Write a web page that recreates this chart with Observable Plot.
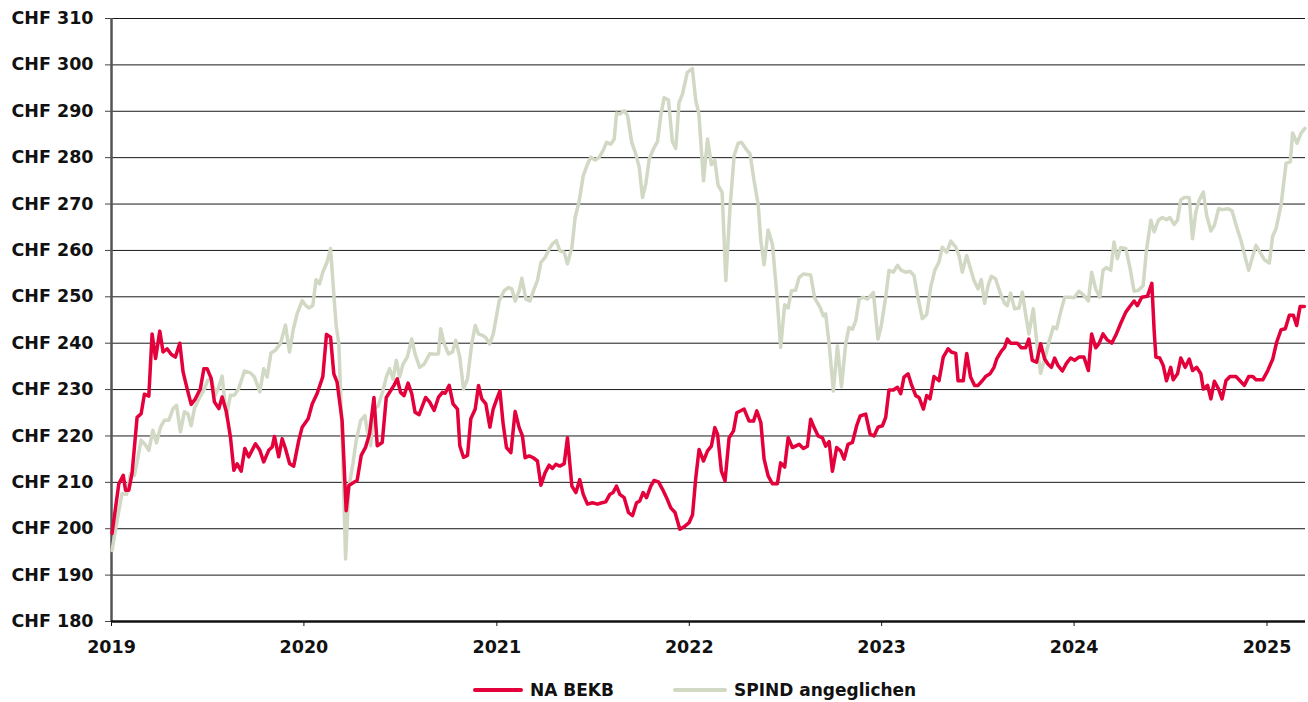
<!DOCTYPE html>
<html>
<head>
<meta charset="utf-8">
<script src="https://cdn.jsdelivr.net/npm/d3@7"></script>
<script src="https://cdn.jsdelivr.net/npm/@observablehq/plot@0.6"></script>
<style>
  html, body { margin: 0; padding: 0; background: #fff; }
  #chart svg { display: block; }
  #legend { position: relative; height: 40px; font: bold 17px "DejaVu Sans", sans-serif; color: #111; }
  .item { position: absolute; top: 0; display: flex; align-items: center; height: 56px; }
  .sw { display: inline-block; height: 4px; border-radius: 2px; margin-right: 7px; }
</style>
</head>
<body>
<div id="chart"></div>
<div id="legend"></div>
<script>
// Series names and colours
const seriesNames = ["NA BEKB", "SPIND angeglichen"];
const seriesColors = ["#e3003b", "#d1d8c4"];

// Y ticks (CHF) and X ticks (years)
const yTicks = [180, 190, 200, 210, 220, 230, 240, 250, 260, 270, 280, 290, 300, 310];
const xTickYears = [2019, 2020, 2021, 2022, 2023, 2024, 2025];

// NA BEKB: decimal-year positions and values
const bekbYears = [2019.003,2019.038,2019.061,2019.073,2019.090,2019.107,2019.133,2019.154,2019.171,2019.194,2019.211,2019.229,2019.251,2019.268,2019.289,2019.310,2019.332,2019.355,2019.372,2019.393,2019.414,2019.436,2019.462,2019.480,2019.497,2019.518,2019.535,2019.558,2019.575,2019.597,2019.618,2019.636,2019.653,2019.674,2019.693,2019.713,2019.748,2019.771,2019.791,2019.817,2019.835,2019.847,2019.869,2019.887,2019.904,2019.926,2019.947,2019.973,2019.991,
2020.022,2020.043,2020.069,2020.098,2020.117,2020.138,2020.155,2020.172,2020.198,2020.219,2020.233,2020.259,2020.276,2020.297,2020.320,2020.340,2020.363,2020.380,2020.406,2020.427,2020.450,2020.467,2020.484,2020.501,2020.519,2020.540,2020.559,2020.576,2020.597,2020.631,2020.652,2020.675,2020.697,2020.718,2020.732,2020.753,2020.773,2020.796,2020.808,2020.827,2020.848,2020.865,2020.888,2020.905,2020.922,2020.943,2020.964,2020.981,
2021.000,2021.016,2021.033,2021.050,2021.073,2021.095,2021.116,2021.133,2021.147,2021.168,2021.189,2021.211,2021.229,2021.251,2021.272,2021.289,2021.307,2021.327,2021.350,2021.367,2021.390,2021.411,2021.431,2021.449,2021.471,2021.497,2021.523,2021.546,2021.566,2021.587,2021.604,2021.622,2021.639,2021.662,2021.684,2021.705,2021.726,2021.743,2021.760,2021.778,2021.800,2021.817,2021.840,2021.861,2021.882,2021.904,2021.926,2021.951,2021.973,2021.999,
2022.017,2022.034,2022.051,2022.074,2022.095,2022.115,2022.133,2022.147,2022.167,2022.186,2022.207,2022.230,2022.247,2022.285,2022.311,2022.334,2022.351,2022.372,2022.389,2022.410,2022.432,2022.458,2022.475,2022.496,2022.514,2022.536,2022.571,2022.593,2022.614,2022.631,2022.649,2022.670,2022.692,2022.709,2022.727,2022.744,2022.766,2022.787,2022.805,2022.825,2022.848,2022.870,2022.888,2022.917,2022.940,2022.960,2022.981,
2023.004,2023.021,2023.038,2023.061,2023.082,2023.099,2023.116,2023.137,2023.154,2023.177,2023.194,2023.217,2023.234,2023.251,2023.272,2023.298,2023.320,2023.345,2023.362,2023.385,2023.397,2023.424,2023.442,2023.462,2023.483,2023.501,2023.523,2023.540,2023.563,2023.584,2023.598,2023.622,2023.639,2023.653,2023.670,2023.705,2023.726,2023.748,2023.765,2023.783,2023.805,2023.826,2023.847,2023.864,2023.882,2023.899,2023.916,2023.939,2023.961,2023.982,
2024.003,2024.025,2024.051,2024.074,2024.091,2024.112,2024.129,2024.150,2024.172,2024.195,2024.216,2024.242,2024.268,2024.289,2024.311,2024.328,2024.351,2024.380,2024.403,2024.415,2024.424,2024.444,2024.462,2024.479,2024.501,2024.514,2024.536,2024.553,2024.576,2024.597,2024.614,2024.635,2024.657,2024.670,2024.692,2024.709,2024.727,2024.749,2024.767,2024.787,2024.808,2024.839,2024.860,2024.882,2024.905,2024.926,2024.943,2024.978,
2025.004,2025.030,2025.050,2025.073,2025.095,2025.116,2025.137,2025.154,2025.172,2025.194];
const bekbValues = [199,209.7,211.5,208.3,208.3,212,224,224.8,229,228.6,242,236.7,242.6,238.1,238.8,237.6,237,240,233.8,230.2,226.8,228,230.2,234.5,234.5,232.4,227.3,225.9,228.4,225.2,219.8,212.6,214,212.4,217.3,215.5,218.3,216.9,214.4,216.9,217.6,219.9,215.5,219.4,217.3,214,213.5,219,221.9,
223.7,226.9,229.2,232.8,241.9,241.3,233.4,231.6,223.3,203.9,209.3,210,210.4,215.8,217.6,220.4,228.3,217.9,218.6,228.3,229.8,230.9,232.3,229.4,228.7,231.4,229.1,225.1,224.6,228.3,227.3,225.5,228.3,229.4,229.2,230.9,226.9,225.8,217.9,215.4,215.8,223.7,225.8,230.9,228,226.9,221.9,225.8,
228,229.7,222.5,217.5,216.4,225.3,221.8,220,215.3,215.7,215.3,214.6,209.4,212.1,213.7,213,213.9,213.5,214,219.6,209.2,207.8,210.6,207.4,205.3,205.6,205.3,205.6,205.8,207.4,207.8,209.2,207.4,206.7,203.5,202.8,205.6,206,207.8,206.7,209.2,210.4,210.1,208.5,206.7,204.5,203.5,199.9,200.4,201.3,
203,211,217.1,214.6,216.8,217.8,221.8,220.4,212.4,210.3,219.6,221.1,225,225.8,223.2,223.2,225.4,222.9,215,211.4,209.7,209.7,214.2,213.3,219.6,217.5,218.2,217.3,217.8,223.6,221.8,220,219.6,217.8,218.8,212.4,217.5,216.8,215,218.2,218.6,222.2,224.3,224.7,220.4,220,221.9,
222.2,224,229.9,229.9,230.5,229.1,232.7,233.4,231.2,228.7,228.3,225.8,228.7,228,232.8,231.9,237,238.8,238.1,237.8,231.9,231.9,237.8,232.7,230.9,230.9,231.9,232.8,233.4,234.8,236.6,238.3,239.1,240.9,240,240,239,239,240.9,236.3,235.9,239.9,236.6,235.5,234.8,236.8,235.2,234,235.7,236.8,
236.3,237,237,234.1,242,239,239.9,242,240.7,240,241.7,244.3,246.7,247.9,249.1,248.1,249.9,250.1,252.9,242.7,237,236.8,235.2,231.9,234.8,232.1,233.4,236.8,234.8,236.6,234.1,234.8,233.4,230.1,230.9,228,231.8,230.1,228,231.9,232.8,232.8,231.9,230.9,232.8,232.8,232.1,232.1,
234.1,236.6,240.2,242.9,243.1,246,246,243.8,247.9,247.9];

// SPIND angeglichen: decimal-year positions and values
const spindYears = [2019.003,2019.029,2019.055,2019.078,2019.099,2019.119,2019.133,2019.154,2019.177,2019.194,2019.215,2019.234,2019.255,2019.275,2019.298,2019.320,2019.338,2019.358,2019.379,2019.397,2019.414,2019.431,2019.459,2019.480,2019.500,2019.518,2019.540,2019.558,2019.575,2019.597,2019.618,2019.639,2019.661,2019.691,2019.722,2019.743,2019.771,2019.791,2019.809,2019.829,2019.852,2019.878,2019.904,2019.925,2019.944,2019.965,2019.991,
2020.008,2020.025,2020.046,2020.063,2020.081,2020.098,2020.120,2020.138,2020.155,2020.167,2020.181,2020.198,2020.216,2020.233,2020.254,2020.271,2020.294,2020.316,2020.328,2020.346,2020.363,2020.385,2020.410,2020.427,2020.444,2020.462,2020.479,2020.496,2020.514,2020.536,2020.559,2020.576,2020.600,2020.623,2020.652,2020.680,2020.697,2020.709,2020.727,2020.749,2020.770,2020.787,2020.808,2020.827,2020.848,2020.870,2020.888,2020.905,2020.926,2020.943,2020.962,2020.981,
2021.012,2021.038,2021.061,2021.078,2021.095,2021.116,2021.130,2021.151,2021.172,2021.194,2021.211,2021.229,2021.251,2021.272,2021.289,2021.310,2021.327,2021.350,2021.367,2021.390,2021.407,2021.428,2021.449,2021.471,2021.488,2021.511,2021.532,2021.552,2021.570,2021.592,2021.610,2021.622,2021.639,2021.662,2021.679,2021.701,2021.722,2021.740,2021.757,2021.774,2021.792,2021.812,2021.835,2021.852,2021.869,2021.892,2021.912,2021.930,2021.947,2021.964,2021.990,
2022.016,2022.034,2022.050,2022.074,2022.095,2022.115,2022.133,2022.150,2022.171,2022.190,2022.212,2022.233,2022.254,2022.271,2022.294,2022.316,2022.337,2022.358,2022.372,2022.389,2022.410,2022.432,2022.455,2022.475,2022.496,2022.514,2022.531,2022.553,2022.571,2022.593,2022.631,2022.652,2022.680,2022.697,2022.709,2022.727,2022.749,2022.770,2022.791,2022.813,2022.830,2022.848,2022.865,2022.883,2022.905,2022.926,2022.957,2022.981,2022.998,
2023.021,2023.038,2023.061,2023.082,2023.102,2023.125,2023.147,2023.168,2023.185,2023.211,2023.234,2023.255,2023.276,2023.298,2023.315,2023.338,2023.359,2023.385,2023.402,2023.419,2023.442,2023.462,2023.480,2023.501,2023.518,2023.535,2023.553,2023.570,2023.592,2023.618,2023.639,2023.653,2023.670,2023.691,2023.714,2023.731,2023.748,2023.765,2023.788,2023.809,2023.826,2023.847,2023.869,2023.892,2023.909,2023.930,2023.951,2023.977,
2024.000,2024.025,2024.051,2024.074,2024.091,2024.112,2024.133,2024.150,2024.167,2024.190,2024.207,2024.224,2024.242,2024.268,2024.289,2024.311,2024.334,2024.358,2024.375,2024.398,2024.415,2024.437,2024.458,2024.479,2024.496,2024.519,2024.536,2024.553,2024.571,2024.597,2024.614,2024.631,2024.649,2024.670,2024.687,2024.709,2024.727,2024.749,2024.770,2024.796,2024.818,2024.843,2024.865,2024.882,2024.905,2024.922,2024.943,2024.964,2024.986,
2025.012,2025.029,2025.047,2025.073,2025.099,2025.121,2025.133,2025.156,2025.177,2025.197];
const spindValues = [195.3,201.8,207.6,207.4,211.9,211.5,214.4,219.1,218,216.9,221.2,218.5,221.9,223.4,223.4,225.9,226.6,220.9,225.2,224.8,222.2,225.9,228.4,229.9,232,232.4,228.8,230.6,232.9,224.1,228.8,228.8,230.2,234,233.6,232.7,229.5,234.5,232.7,237.9,238.5,239.9,243.9,238.1,242.8,246.4,249.2,
248.2,247.6,248.1,253.7,252.8,255.3,257.5,260.4,250.6,243.8,239.9,220.4,193.5,208.9,214,219,223.3,224.4,221.2,217.9,225.8,226.5,229.8,232.7,234.5,232.3,236.3,232.7,235.5,237,240.9,237.7,234.8,235.5,237.7,237.6,237.7,243.1,239.9,237.7,238.1,240.6,237,230.1,232.3,239.9,243.8,242,241.7,241.2,239.8,241.9,
249.1,251.3,252,251.7,249.1,251.3,254,249.5,249.1,251.7,253.5,257.4,258.5,260.3,261.4,262.1,259.9,259.6,257.1,260.6,267.1,270.7,276.1,278.6,280.1,279.5,280.1,281.5,283.3,282.9,284,289.6,289.4,290.1,289.1,283.3,280.8,277.9,271.4,274.3,279.7,281.7,283.5,289.1,292.9,292.4,283.5,282,291.9,293.6,298.4,
299.2,292.3,289.5,275,284,278.5,279.4,274,272.5,253.5,269.3,280.4,283.1,283.3,281.9,280.8,275,270,262.1,256.9,264.4,261.4,250.6,239.1,248.3,247.6,251.3,251.4,254.2,254.9,254.7,249.7,247.7,245.9,246.3,239.8,229.7,239.4,230.6,239.8,243.4,243,244.8,249.5,249.9,249.5,250.9,240.9,243.8,
249.9,255.7,255.3,256.8,255.7,255.3,255.5,254.6,250.6,245.3,246.2,252.1,255.7,257.5,260.7,259.6,262,260.7,258.9,255.3,258.9,256,253.5,251.7,253.7,248.6,252.4,254.4,253.9,250.6,248.6,248.1,250.8,247.4,247.6,251,246.3,242,247.4,239.1,233.5,236.6,240.2,243.5,243.1,246.7,249.9,249.9,
249.8,251.2,250.3,249.1,255.3,251.7,249.9,255.7,256.3,255.7,261.8,258.2,260.6,260.4,256.4,251.2,251.4,252.4,260,266.5,264,266.5,267.1,266.6,267.1,265.6,266.5,270.9,271.4,271.4,262.5,268.3,270.9,272.6,267.6,264.2,265.4,269,268.8,269,268.6,265,262.2,259.3,255.7,258.2,261.1,259.6,258,
257.3,263,264.7,269.8,278.8,279.1,285.3,283.1,285.3,286.3];

// convert decimal year to a UTC Date
function toDate(t) {
  const y = Math.floor(t);
  const s = Date.UTC(y, 0, 1), e = Date.UTC(y + 1, 0, 1);
  return new Date(s + (t - y) * (e - s));
}
const bekb = bekbYears.map((t, i) => ({date: toDate(t), value: bekbValues[i]}));
const spind = spindYears.map((t, i) => ({date: toDate(t), value: spindValues[i]}));
const xTicks = xTickYears.map(y => new Date(Date.UTC(y, 0, 1)));
const xDomain = [new Date(Date.UTC(2019, 0, 1)), new Date(Date.UTC(2025, 2, 15))];

const chart = Plot.plot({
  width: 1308,
  height: 662,
  marginTop: 18,
  marginBottom: 41,
  marginLeft: 111,
  marginRight: 3,
  style: {fontFamily: "'DejaVu Sans', sans-serif", fontSize: "17.5px", fontWeight: "bold", color: "#111", background: "#fff"},
  x: {type: "utc", domain: xDomain},
  y: {domain: [180, 310]},
  marks: [
    Plot.gridY(yTicks, {stroke: "#1a1a1a", strokeOpacity: 1, strokeWidth: 1}),
    Plot.axisY(yTicks, {tickFormat: d => "CHF " + d, tickSize: 6, tickPadding: 12, stroke: "#444", label: null, fill: "#111"}),
    Plot.ruleX([xDomain[0]], {stroke: "#555", strokeWidth: 2.5}),
    Plot.ruleY([180], {stroke: "#111", strokeWidth: 2.5}),
    Plot.axisX(xTicks, {tickFormat: d => String(d.getUTCFullYear()), tickSize: 5, tickPadding: 14, stroke: "#111", label: null, fill: "#111"}),
    Plot.line(spind, {x: "date", y: "value", stroke: seriesColors[1], strokeWidth: 3.5, strokeLinejoin: "round"}),
    Plot.line(bekb, {x: "date", y: "value", stroke: seriesColors[0], strokeWidth: 3.5, strokeLinejoin: "round"})
  ]
});
document.getElementById("chart").appendChild(chart);

// legend
const legend = document.getElementById("legend");
const legendLefts = [473, 673];
const swatchWidths = [50, 54];
seriesNames.forEach((name, i) => {
  const item = document.createElement("div");
  item.className = "item";
  item.style.left = legendLefts[i] + "px";
  const sw = document.createElement("span");
  sw.className = "sw";
  sw.style.width = swatchWidths[i] + "px";
  sw.style.background = seriesColors[i];
  const tx = document.createElement("span");
  tx.textContent = name;
  item.appendChild(sw);
  item.appendChild(tx);
  legend.appendChild(item);
});
</script>
</body>
</html>
